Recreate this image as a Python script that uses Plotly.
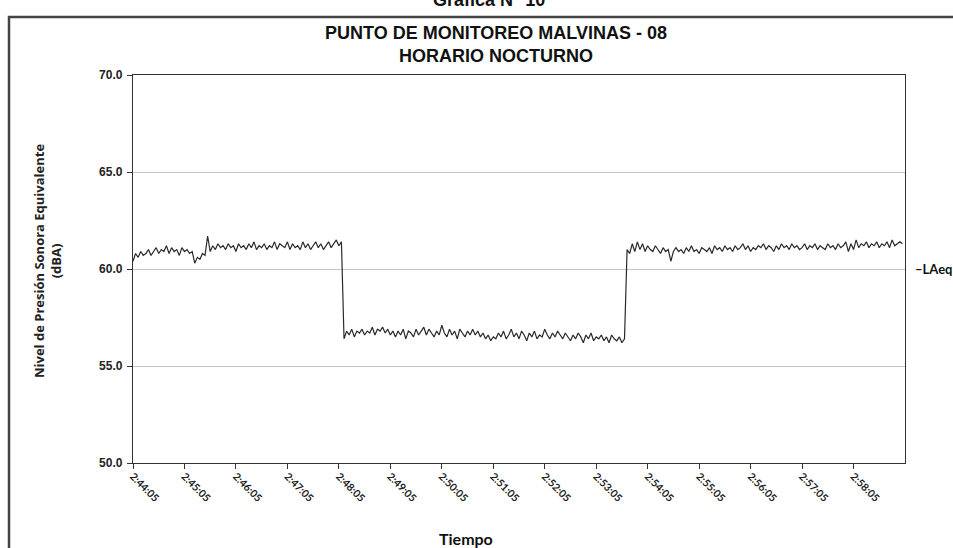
import pandas as pd
import plotly.graph_objects as go

# ---- data (LAeq, dBA), one reading every 3 s starting 02:44:05 ----
start_time = "2024-01-01 02:44:05"
step = "3s"

laeq_tramo1 = [
    60.4, 60.8, 60.6, 60.9, 60.7, 60.8, 61.0, 60.7, 60.9, 61.1,
    60.8, 61.0, 60.9, 61.2, 60.8, 61.1, 60.9, 61.0, 60.7, 61.1,
    60.9, 61.0, 60.8, 60.9, 60.3, 60.6, 60.5, 60.8, 60.7, 61.7,
    60.9, 61.2, 61.0, 61.3, 61.1, 61.2, 61.0, 61.3, 61.1, 61.2,
    60.9, 61.3, 61.1, 61.2, 61.0, 61.3, 61.1, 61.4, 61.0, 61.2,
    61.1, 61.3, 61.0, 61.2, 61.1, 61.4, 61.0, 61.3, 61.2, 61.1,
    61.4, 61.0, 61.3, 61.1, 61.2, 61.0, 61.4, 61.1, 61.3, 61.0,
    61.2, 61.4, 61.1, 61.3, 61.0, 61.2, 61.4, 61.1, 61.3, 61.5,
    61.2, 61.4,
]
laeq_tramo2 = [
    56.4, 56.8, 56.6, 56.9, 56.5, 56.8, 56.7, 56.9, 56.6, 56.8,
    56.7, 57.0, 56.6, 56.9, 56.8, 57.0, 56.7, 56.9, 56.6, 56.8,
    56.5, 56.8, 56.6, 56.9, 56.4, 56.8, 56.7, 56.5, 56.9, 56.6,
    56.8, 57.0, 56.6, 56.9, 56.7, 56.5, 56.8, 56.6, 57.1, 56.7,
    56.5, 56.9, 56.6, 56.8, 56.4, 56.9, 56.7, 56.5, 56.8, 56.6,
    56.9, 56.6, 56.8, 56.5, 56.7, 56.4, 56.6, 56.3, 56.5, 56.4,
    56.7, 56.5, 56.8, 56.4, 56.6, 56.9, 56.5, 56.7, 56.4, 56.8,
    56.6, 56.3, 56.7, 56.5, 56.8, 56.4, 56.6, 56.5, 56.9, 56.6,
    56.4, 56.7, 56.5, 56.8, 56.6, 56.4, 56.7, 56.5, 56.3, 56.6,
    56.4, 56.7, 56.5, 56.2, 56.6, 56.4, 56.7, 56.3, 56.5, 56.4,
    56.6, 56.3, 56.5, 56.2, 56.6, 56.4, 56.3, 56.5, 56.2, 56.4,
]
laeq_tramo3 = [
    61.0, 60.8, 61.3, 60.9, 61.4, 61.0, 61.3, 60.9, 61.2, 61.0,
    60.9, 61.2, 61.0, 60.8, 61.1, 60.9, 61.0, 60.4, 60.9, 61.1,
    60.9, 61.0, 60.8, 61.1, 60.9, 61.2, 60.9, 61.0, 60.8, 61.1,
    61.0, 60.9, 61.1, 60.8, 61.2, 61.0, 61.1, 60.9, 61.2, 61.0,
    61.1, 60.9, 61.2, 61.0, 61.1, 61.3, 61.0, 61.2, 60.9, 61.1,
    61.0, 61.2, 61.1, 61.3, 61.0, 61.2, 61.1, 60.9, 61.2, 61.0,
    61.3, 61.1, 61.2, 61.0, 61.3, 61.1, 61.2, 61.0, 61.1, 61.3,
    61.0, 61.2, 61.1, 61.3, 61.0, 61.2, 61.1, 61.0, 61.3, 61.1,
    61.2, 61.0, 61.3, 61.1, 61.2, 61.4, 60.9, 61.3, 61.0, 61.5,
    61.1, 61.3, 61.2, 61.4, 61.1, 61.3, 61.2, 61.4, 61.1, 61.3,
    61.2, 61.4, 61.1, 61.5, 61.2, 61.3, 61.4, 61.3,
]
laeq = laeq_tramo1 + laeq_tramo2 + laeq_tramo3

tick_labels = ["2:44:05", "2:45:05", "2:46:05", "2:47:05", "2:48:05",
               "2:49:05", "2:50:05", "2:51:05", "2:52:05", "2:53:05",
               "2:54:05", "2:55:05", "2:56:05", "2:57:05", "2:58:05"]
y_ticks = [50, 55, 60, 65, 70]

times = pd.date_range(start_time, periods=len(laeq), freq=step)
tick_vals = ["2024-01-01 0" + t for t in tick_labels]

fig = go.Figure()
fig.add_trace(go.Scatter(
    x=times, y=laeq, mode="lines", name="LAeq",
    line=dict(color="#2a2a2a", width=1.2),
    showlegend=False,
))

# pixel helpers (plot area: x 133..905, y 75..463)
L, R, T, B = 133, 905, 75, 463
W, H = 953, 548
def px(x):
    return (x - L) / (R - L)
def py(y):
    return (B - y) / (B - T)

arial = "Arial, Liberation Sans, sans-serif"

fig.update_layout(
    width=W, height=H,
    margin=dict(l=L, r=W - R, t=T, b=H - B, autoexpand=False),
    paper_bgcolor="white", plot_bgcolor="white",
    title=dict(
        text="PUNTO DE MONITOREO MALVINAS - 08<br>HORARIO NOCTURNO",
        x=496 / W, xanchor="center", y=1 - 39 / H, yanchor="middle",
        font=dict(family=arial, size=18, color="#111", weight="bold"),
    ),
    xaxis=dict(
        range=["2024-01-01 02:44:05", "2024-01-01 02:59:05"],
        tickvals=tick_vals, ticktext=tick_labels, tickangle=45,
        tickfont=dict(family="Lato, Open Sans, sans-serif", size=10.5,
                      color="#222", weight="bold"),
        ticks="outside", ticklen=5, tickcolor="#333",
        ticklabelstandoff=-3,
        showline=True, linecolor="#333", linewidth=1.3, mirror=True,
        showgrid=False, zeroline=False,
    ),
    yaxis=dict(
        range=[50, 70], tickvals=y_ticks,
        ticktext=[f"{v:.1f}" for v in y_ticks],
        tickfont=dict(family=arial, size=12, color="#222", weight="bold"),
        ticks="outside", ticklen=5, tickcolor="#333",
        ticklabelstandoff=2,
        showline=True, linecolor="#333", linewidth=1.3, mirror=True,
        showgrid=True, gridcolor="#c4c4c4", gridwidth=1, zeroline=False,
    ),
)

fig.add_annotation(
    text="Nivel de Presión Sonora Equivalente<br>(dBA)",
    xref="paper", yref="paper", x=px(47), y=py(261),
    xanchor="center", yanchor="middle", textangle=-90, showarrow=False,
    font=dict(family="Open Sans, sans-serif", size=13, color="#222",
              weight="bold"),
)
fig.add_annotation(
    text="Tiempo", xref="paper", yref="paper", x=px(466), y=py(538),
    xanchor="center", yanchor="middle", showarrow=False,
    font=dict(family="Lato, Open Sans, sans-serif", size=16, color="#111",
              weight="bold"),
)
fig.add_annotation(
    text="\u2013LAeq", xref="paper", yref="paper", x=px(913), y=py(269),
    xanchor="left", yanchor="middle", showarrow=False,
    font=dict(family="Lato, Open Sans, sans-serif", size=13, color="#111",
              weight="bold"),
)
fig.add_annotation(
    text="Gráfica N° 10", xref="paper", yref="paper", x=px(489), y=py(0),
    xanchor="center", yanchor="middle", showarrow=False,
    font=dict(family=arial, size=18, color="#111", weight="bold"),
)
# chart frame
fig.add_shape(type="rect", xref="paper", yref="paper",
              x0=px(9), x1=px(960), y0=py(562), y1=py(17),
              line=dict(color="#444", width=2.5), layer="below")

fig.write_html("out.html")
